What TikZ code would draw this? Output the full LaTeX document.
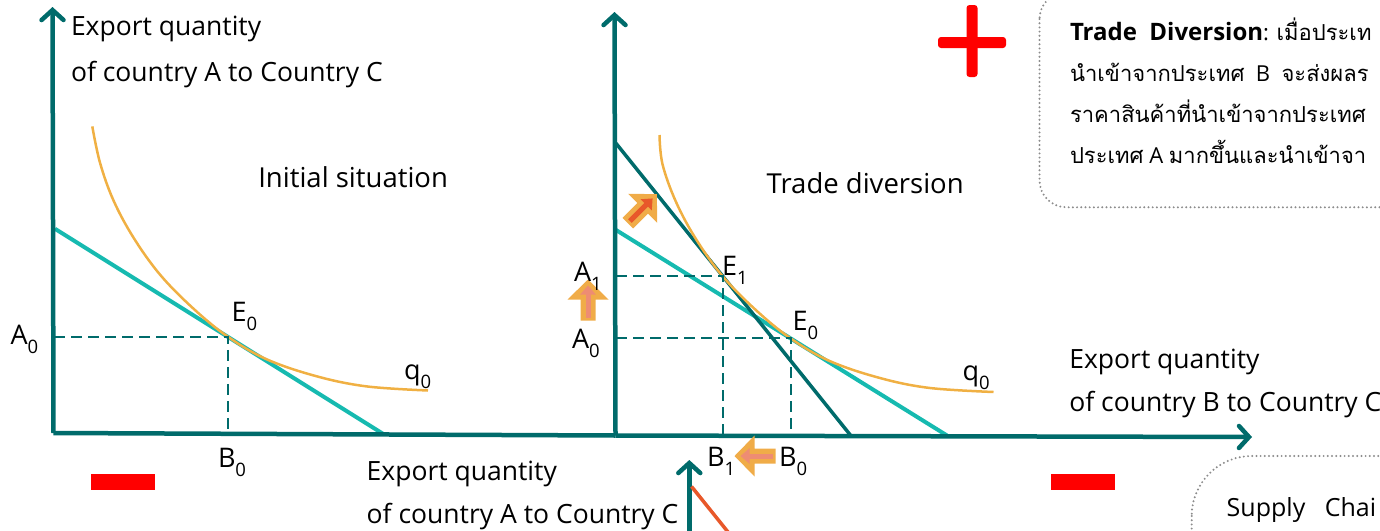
\documentclass[tikz,border=0pt]{standalone}
\usepackage{fontspec}
\setmainfont{Open Sans}
\newfontfamily\thaifont[Script=Thai]{Loma}
\usetikzlibrary{arrows.meta}
\definecolor{axisc}{RGB}{0,107,107}
\definecolor{cyanl}{RGB}{22,186,176}
\definecolor{orcurve}{RGB}{240,176,67}
\definecolor{arrfill}{RGB}{240,172,72}
\definecolor{arrred}{RGB}{232,88,42}
\definecolor{arrsal}{RGB}{238,140,115}
\definecolor{boxgray}{RGB}{140,140,140}
\definecolor{signred}{RGB}{255,0,0}
\newcommand\sbx[1]{\raisebox{-0.34em}{\fontsize{18.5}{19}\selectfont #1}}
\newcommand\blockarr[4]{%
  \begin{scope}[shift={(#1,#2)},rotate=#3]
    \fill[arrfill] (-20,-7.5) -- (1,-7.5) -- (1,-20.5) -- (21,0) -- (1,20.5) -- (1,7.5) -- (-20,7.5) -- cycle;
    \draw[draw=#4, line width=5pt, -{Triangle[length=9pt,width=15pt,fill=#4]}] (-17,0) -- (15,0);
  \end{scope}}
\begin{document}
\begin{tikzpicture}[x=1pt,y=-1pt,
  font=\fontsize{26.5}{30}\selectfont,
  lbl/.style={anchor=base west, inner sep=0pt, outer sep=0pt},
  pt/.style={lbl, font=\fontsize{27}{30}\selectfont},
  ttl/.style={lbl, font=\fontsize{27.5}{30}\selectfont},
  thl/.style={lbl, font=\fontsize{22}{28}\selectfont},
  axisline/.style={draw=axisc, line width=4.5pt, line join=round},
  axtip/.style={-{Straight Barb[length=10pt,width=22pt,line cap=round]}},
  budget/.style={draw=cyanl, line width=4pt},
  newbudget/.style={draw=axisc, line width=3.5pt},
  isoq/.style={draw=orcurve, line width=2.5pt},
  guide/.style={draw=axisc, line width=1.8pt, dash pattern=on 11pt off 6pt},
  dotbox/.style={draw=boxgray, line width=2.2pt, line cap=round, dash pattern=on 0pt off 4.2pt},
  signbar/.style={fill=signred}]
\clip (0,0) rectangle (1380,530);

% ---------- coordinates ----------
\coordinate (O1) at (53.5,433);
\coordinate (Y1) at (52.5,7);
\coordinate (O2) at (615.5,435.5);
\coordinate (Y2) at (614.5,12);
\coordinate (X2) at (1252,437);
\coordinate (E0L) at (227.7,336.6);
\coordinate (A0Lp) at (54,336.6);
\coordinate (B0Lp) at (227.7,433);
\coordinate (E1M) at (722.7,276);
\coordinate (E0M) at (790.7,338);
\coordinate (A1Mp) at (616,276);
\coordinate (A0Mp) at (616,338);
\coordinate (B1Mp) at (722.7,436);
\coordinate (B0Mp) at (790.7,436);

% ---------- left chart ----------
\draw[budget] (55,228.8) -- (383.3,434);
\draw[isoq] plot[smooth,tension=0.6] coordinates {(92.3,126.4) (100,162.7) (113.3,200) (133.3,237.3) (160,274.6) (193.3,308.5) (227.7,336.6) (266.7,359.3) (316.7,376.3) (366.7,386.4) (428,390.5)};
\draw[guide] (A0Lp) -- (E0L) -- (B0Lp);

% ---------- middle chart ----------
\draw[budget] (616,230) -- (947,435.5);
\draw[newbudget] (616,143.3) -- (850.7,435.5);
\begin{scope}[shift={(562.5,1.5)}]
\draw[isoq] plot[smooth,tension=0.6] coordinates {(97,133.5) (100,162.7) (113.3,200) (133.3,237.3) (160,274.6) (193.3,308.5) (227.7,336.6) (266.7,359.3) (316.7,376.3) (366.7,386.4) (431,390.5)};
\end{scope}
\draw[guide] (A1Mp) -- (E1M) -- (B1Mp);
\draw[guide] (A0Mp) -- (E0M) -- (B0Mp);

% ---------- axes ----------
\draw[axisline, axtip] (O1) -- (Y1);
\draw[axisline] (O1) -- (O2);
\draw[axisline, axtip] (O2) -- (X2);
\draw[axisline, axtip] (O2) -- (Y2);
\coordinate (Y3b) at (689.3,545);
\coordinate (Y3) at (689.3,460);
\draw[axisline, axtip] (Y3b) -- (Y3);
\coordinate (R1) at (691.5,486.5);
\coordinate (R2) at (740,547);
\draw[draw=arrred, line width=3.5pt] (R1) -- (R2);

% ---------- block arrows ----------
\blockarr{642}{209}{45}{arrred}
\blockarr{588}{300.5}{90}{arrsal}
\blockarr{755.5}{456}{180}{arrsal}

% ---------- labels left ----------
\node[lbl] (ylab1) at (71,35.6) {Export quantity};
\node[lbl] (ylab2) at (71,81.4) {of country A to Country C};
\node[ttl] (init) at (258.3,187) {Initial situation};
\node[pt] (lA0) at (10.5,344) {A\sbx{0}};
\node[pt] (lE0) at (231.5,321.4) {E\sbx{0}};
\node[pt] (lB0) at (218,467) {B\sbx{0}};
\node[pt] (lq0) at (404,379.5) {q\sbx{0}};

% ---------- labels middle ----------
\node[ttl] (tdv) at (766.7,193) {Trade diversion};
\node[pt] (mE1) at (722,275) {E\sbx{1}};
\node[pt] (mE0) at (792.5,330) {E\sbx{0}};
\node[pt] (mA1) at (574,281.7) {A\sbx{1}};
\node[pt] (mA0) at (572,348) {A\sbx{0}};
\node[pt] (mB1) at (707,466.7) {B\sbx{1}};
\node[pt] (mB0) at (779,466.7) {B\sbx{0}};
\node[pt] (mq0) at (962.5,380) {q\sbx{0}};
\node[lbl] (xlab1) at (1069.3,368.3) {Export quantity};
\node[lbl] (xlab2) at (1069.3,411.7) {of country B to Country C};
\node[lbl] (blab1) at (366.7,480) {Export quantity};
\node[lbl] (blab2) at (366.7,523.3) {of country A to Country C};

% ---------- signs ----------
\fill[signbar] (91,474) rectangle (155,490);
\fill[signbar] (1051,474) rectangle (1115,490);
\fill[signbar, rounded corners=3pt] (938,37) rectangle (1006,48);
\fill[signbar, rounded corners=3pt] (966.5,5) rectangle (977.5,77);

% ---------- text boxes ----------
\draw[dotbox, rounded corners=27pt] (1039.5,-8) rectangle (1430,207.3);
\node[thl] (t1) at (1070,40) {{\fontsize{24}{28}\selectfont\bfseries Trade\ \ Diversion}: {\thaifont เมื่อประเท}};
\node[thl] (t2) at (1070,81) {{\thaifont นำเข้าจากประเทศ}\ \ B\ \ {\thaifont จะส่งผลร}};
\node[thl] (t3) at (1070,122) {{\thaifont ราคาสินค้าที่นำเข้าจากประเทศ}};
\node[thl] (t4) at (1070,163) {{\thaifont ประเทศ} A {\thaifont มากขึ้นและนำเข้าจา}};
\draw[dotbox, rounded corners=60pt] (1191.7,456) rectangle (1450,620);
\node[lbl, font=\fontsize{25}{30}\selectfont] (s1) at (1226.7,516) {Supply\ \ \ Chai};
\end{tikzpicture}
\end{document}
